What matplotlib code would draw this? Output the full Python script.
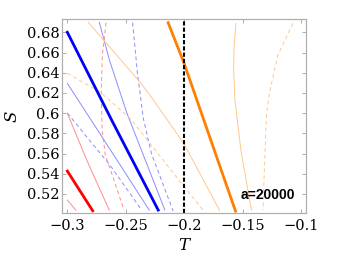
import numpy as np
import matplotlib
matplotlib.use("Agg")
import matplotlib.pyplot as plt

# curves, (T, S) pairs
blue_thick_T = [-0.300, -0.2621, -0.2222]
blue_thick_S = [0.680, 0.5932, 0.5041]
red_thick_T = [-0.300, -0.2783]
red_thick_S = [0.5427, 0.5034]
orange_thick_T = [-0.2137, -0.2000, -0.1560]
orange_thick_S = [0.6895, 0.6492, 0.5030]

blue_thin1_T = [-0.300, -0.2650, -0.2299]
blue_thin1_S = [0.6295, 0.5670, 0.5041]
blue_thin2_T = [-0.2726, -0.2640, -0.2490, -0.2165]
blue_thin2_S = [0.6899, 0.6526, 0.600, 0.5041]
blue_dash1_T = [-0.300, -0.2635, -0.2364]
blue_dash1_S = [0.600, 0.5486, 0.5041]
blue_dash2_T = [-0.2441, -0.2400, -0.2350, -0.2280, -0.2094]
blue_dash2_S = [0.6895, 0.640, 0.595, 0.560, 0.5030]

red_thin1_T = [-0.300, -0.2834, -0.2641]
red_thin1_S = [0.600, 0.5536, 0.5041]
red_thin2_T = [-0.300, -0.2928]
red_thin2_S = [0.514, 0.5041]
red_dash_T = [-0.2669, -0.2700, -0.2710, -0.2702, -0.2675, -0.2610, -0.2515]
red_dash_S = [0.6895, 0.6575, 0.620, 0.5833, 0.5586, 0.5370, 0.5040]

orange_thin1_T = [-0.2821, -0.2393, -0.2293, -0.2000, -0.1695]
orange_thin1_S = [0.6899, 0.6328, 0.6179, 0.5694, 0.5034]
orange_thin2_T = [-0.1557, -0.1574, -0.1576, -0.1565, -0.1514, -0.1462, -0.1424]
orange_thin2_S = [0.6889, 0.6626, 0.6427, 0.613, 0.5635, 0.5288, 0.504]
orange_dash1_T = [-0.300, -0.2721, -0.2464, -0.2011, -0.1838]
orange_dash1_S = [0.6394, 0.6209, 0.5951, 0.5288, 0.5040]
orange_dash2_T = [-0.1068, -0.1197, -0.1268, -0.1296, -0.1310, -0.1325]
orange_dash2_S = [0.6889, 0.6575, 0.6212, 0.598, 0.5536, 0.504]

T_crit = -0.2
label = "a=20000"
xticks = [-0.3, -0.25, -0.2, -0.15, -0.1]
yticks = [0.52, 0.54, 0.56, 0.58, 0.6, 0.62, 0.64, 0.66, 0.68]

blue, red, orange = "#0000ff", "#ff0000", "#ff8000"
lblue, lred, lorange = "#8c8cff", "#ff8c8c", "#ffc88c"
dash = (0, (4, 3))

fig = plt.figure(figsize=(3.43, 2.56), dpi=100)
ax = fig.add_axes([0.181, 0.168, 0.711, 0.756])

# thin curves
ax.plot(blue_thin1_T, blue_thin1_S, color=lblue, lw=0.7)
ax.plot(blue_thin2_T, blue_thin2_S, color=lblue, lw=0.7)
ax.plot(blue_dash1_T, blue_dash1_S, color=lblue, lw=0.7, ls=dash)
ax.plot(blue_dash2_T, blue_dash2_S, color=lblue, lw=0.7, ls=dash)
ax.plot(red_thin1_T, red_thin1_S, color=lred, lw=0.7)
ax.plot(red_thin2_T, red_thin2_S, color=lred, lw=0.7)
ax.plot(red_dash_T, red_dash_S, color=lred, lw=0.7, ls=dash)
ax.plot(orange_thin1_T, orange_thin1_S, color=lorange, lw=0.7)
ax.plot(orange_thin2_T, orange_thin2_S, color=lorange, lw=0.7)
ax.plot(orange_dash1_T, orange_dash1_S, color=lorange, lw=0.7, ls=dash)
ax.plot(orange_dash2_T, orange_dash2_S, color=lorange, lw=0.7, ls=dash)

# thick curves
ax.plot(blue_thick_T, blue_thick_S, color=blue, lw=2.0)
ax.plot(red_thick_T, red_thick_S, color=red, lw=2.0)
ax.plot(orange_thick_T, orange_thick_S, color=orange, lw=2.0)

ax.axvline(T_crit, color="black", lw=1.5, ls=(0, (2, 1)))

ax.text(0.733, 0.095, label, transform=ax.transAxes, fontsize=10,
        fontweight="bold", family="Liberation Sans", va="center")

ax.set_xlim(-0.3045, -0.0957)
ax.set_ylim(0.5012, 0.6927)
ax.set_xticks(xticks)
ax.set_xticklabels(["\u22120.3", "\u22120.25", "\u22120.2", "\u22120.15", "\u22120.1"])
ax.set_yticks(yticks)
ax.set_yticklabels(["0.52", "0.54", "0.56", "0.58", "0.6", "0.62", "0.64", "0.66", "0.68"])
for lab in ax.get_xticklabels() + ax.get_yticklabels():
    lab.set_family("DejaVu Serif")
    lab.set_fontsize(10.5)
ax.tick_params(direction="in", length=3, width=0.6, color="#a0a0a0",
               top=True, right=True)
ax.tick_params(axis="x", pad=4)
ax.tick_params(axis="y", pad=2)
for sp in ax.spines.values():
    sp.set_color("#b0b0b0")
    sp.set_linewidth(0.9)

ax.set_xlabel("T", fontsize=12, family="DejaVu Serif", style="italic", labelpad=3)
ax.set_ylabel("S", fontsize=12, family="DejaVu Serif", style="italic", labelpad=4)

fig.savefig("out.png", dpi=100)
